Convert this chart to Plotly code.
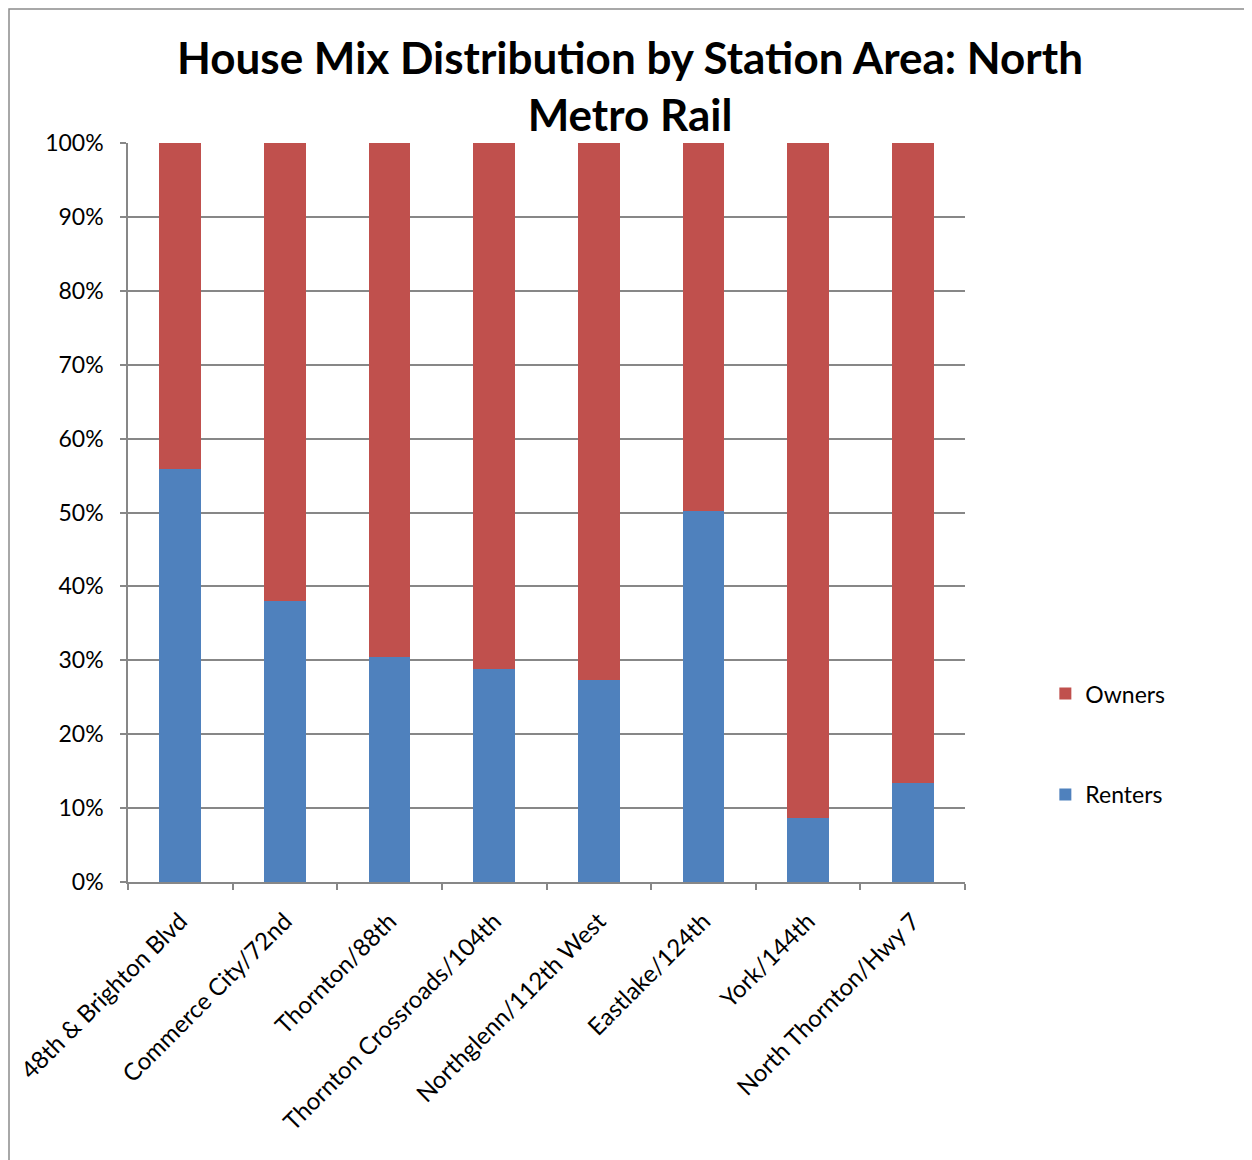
import plotly.graph_objects as go

stations = ["48th & Brighton Blvd", "Commerce City/72nd", "Thornton/88th",
            "Thornton Crossroads/104th", "Northglenn/112th West", "Eastlake/124th",
            "York/144th", "North Thornton/Hwy 7"]
renters = [55.9, 38.0, 30.4, 28.8, 27.4, 50.2, 8.6, 13.4]
owners = [round(100 - r, 1) for r in renters]
y_ticks = [0, 10, 20, 30, 40, 50, 60, 70, 80, 90, 100]

FONT = "Lato"
GRID = "#878787"
L, R, T, B = 120, 287, 135, 278
W, H = 1244, 1152
PW, PH = W - L - R, H - T - B

fig = go.Figure()
fig.add_trace(go.Bar(x=stations, y=[r / 100 for r in renters], name="Renters",
                     marker=dict(color="#4F81BD", line=dict(width=0)),
                     legendgroup="r", legendrank=2))
fig.add_trace(go.Bar(x=stations, y=[o / 100 for o in owners], name="Owners",
                     marker=dict(color="#C0504D", line=dict(width=0)),
                     legendgroup="o", legendrank=1))

fig.update_layout(
    width=W, height=H, autosize=False,
    barmode="stack", bargap=0.6,
    plot_bgcolor="white", paper_bgcolor="white",
    margin=dict(l=L, r=R, t=T, b=B, autoexpand=False),
    font=dict(family=FONT, size=23, color="black"),
    title=dict(text="<b>House Mix Distribution by Station Area: North<br>Metro Rail</b>",
               x=0.5, xanchor="center", y=0.943, yanchor="top",
               font=dict(family=FONT, size=44, color="black")),
    legend=dict(x=1.096, xanchor="left", y=0.284, yanchor="top",
                traceorder="grouped", tracegroupgap=68,
                font=dict(family=FONT, size=23), itemwidth=30),
    showlegend=True,
)
fig.update_yaxes(range=[0, 1], tickvals=[v / 100 for v in y_ticks],
                 ticktext=[f"{v}%" for v in y_ticks],
                 showgrid=True, gridcolor=GRID, gridwidth=1.5,
                 showline=True, linecolor=GRID, linewidth=1.5,
                 ticks="outside", ticklen=6, tickcolor=GRID, tickwidth=1.5,
                 ticklabelstandoff=12, zeroline=False, automargin=False)
fig.update_xaxes(tickangle=-45, tickson="boundaries",
                 showline=True, linecolor=GRID, linewidth=1.5,
                 ticks="outside", ticklen=6, tickcolor=GRID, tickwidth=1.5,
                 ticklabelstandoff=14, tickfont=dict(size=24), showgrid=False,
                 automargin=False)

# chart frame (left and top edges of the chart box)
fig.add_shape(type="rect", xref="paper", yref="paper",
              x0=(-L + 1) / PW, x1=(W + 50 - L) / PW,
              y0=-(B + 50) / PH, y1=1 + (T - 1) / PH,
              line=dict(color="#8c8c8c", width=1.5), layer="below")

fig.write_html("out.html")
